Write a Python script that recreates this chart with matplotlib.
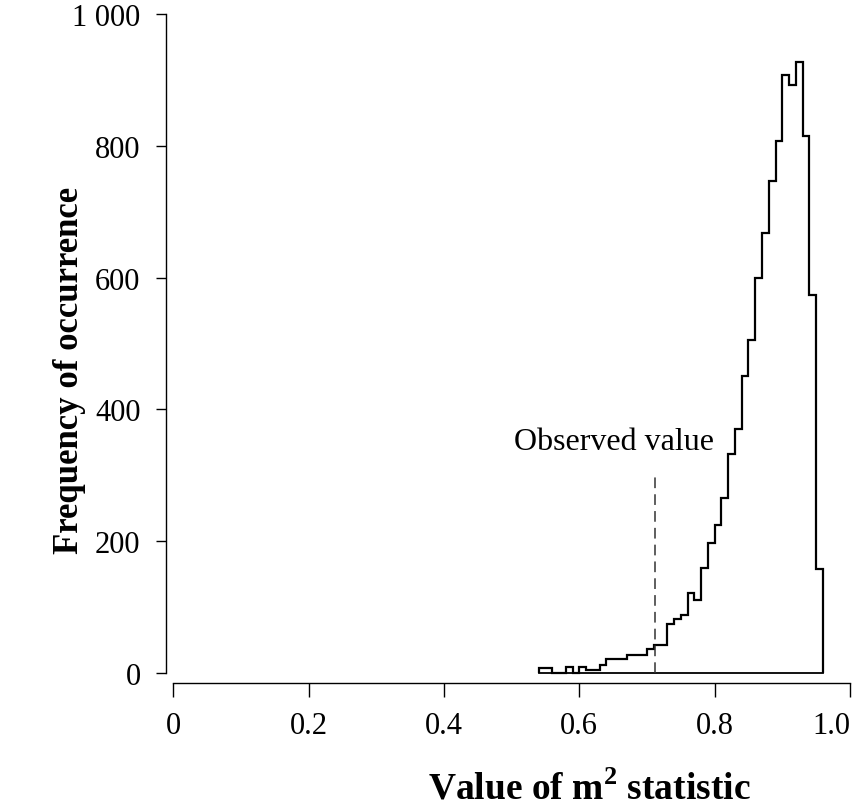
import numpy as np
import matplotlib
matplotlib.use("Agg")
import matplotlib.pyplot as plt

# ---- data ----
bin_start = 0.54
bin_width = 0.01
counts = [8, 8, 0, 0, 9, 0, 9, 5, 5, 12,
          22, 22, 22, 28, 28, 28, 37, 43, 43,
          75, 82, 88, 122, 111, 159, 197, 225, 266, 332,
          370, 450, 505, 599, 668, 747, 808, 907, 893, 927,
          815, 573, 158]
observed_value = 0.712
observed_line_top = 300
x_ticks = [0, 0.2, 0.4, 0.6, 0.8, 1.0]
x_ticklabels = ["0", "0.2", "0.4", "0.6", "0.8", "1.0"]
y_ticks = [0, 200, 400, 600, 800, 1000]
y_ticklabels = ["0", "200", "400", "600", "800", "1 000"]

plt.rcParams['font.family'] = ['Liberation Serif', 'DejaVu Serif']
plt.rcParams['mathtext.fontset'] = 'custom'
plt.rcParams['mathtext.rm'] = 'Liberation Serif'
plt.rcParams['mathtext.bf'] = 'Liberation Serif:bold'

W, H = 860, 812
fig = plt.figure(figsize=(W / 100, H / 100), dpi=100)
x0px, x1px = 173.25, 850.0
y0px, y1px = 674.0, 15.0
ax = fig.add_axes([x0px / W, 1 - y0px / H, (x1px - x0px) / W, (y0px - y1px) / H])

edges = bin_start + bin_width * np.arange(len(counts) + 1)
ax.stairs(counts, edges, baseline=0, fill=False, color='black', linewidth=1.6, clip_on=False)
ax.plot([edges[0], edges[-1]], [0, 0], color='black', linewidth=1.3, clip_on=False)

ax.plot([observed_value, observed_value], [0, observed_line_top], color='#333333',
        linewidth=1.1, linestyle=(0, (7, 4)))
ax.text(0.651, 340, "Observed value", ha='center', va='baseline', fontsize=23)

ax.set_xlim(0, 1.0)
ax.set_ylim(0, 1000)
for s in ['top', 'right']:
    ax.spines[s].set_visible(False)
ax.spines['left'].set_position(('outward', 5))
ax.spines['bottom'].set_position(('outward', 7))
ax.spines['left'].set_linewidth(1.0)
ax.spines['bottom'].set_linewidth(1.0)
ax.set_xticks(x_ticks)
ax.set_xticklabels(x_ticklabels)
ax.set_yticks(y_ticks)
ax.set_yticklabels(y_ticklabels)
ax.tick_params(axis='both', labelsize=22, width=1.0, direction='out')
ax.tick_params(axis='x', length=10, pad=10)
ax.tick_params(axis='y', length=7.5, pad=11)
ax.get_xticklabels()[-1].set_ha('right')

ax.set_xlabel(r"Value of m$^{\mathbf{2}}$ statistic", fontsize=27, fontweight='bold')
ax.xaxis.set_label_coords((589 - x0px) / (x1px - x0px), (y0px - 800) / (y0px - y1px))
ax.xaxis.label.set_va('baseline')
ax.set_ylabel("Frequency of occurrence", fontsize=25, fontweight='bold')
ax.yaxis.set_label_coords((70 - x0px) / (x1px - x0px), (y0px - 370) / (y0px - y1px))
ax.yaxis.label.set_va('center')

fig.savefig("out.png", dpi=100)
